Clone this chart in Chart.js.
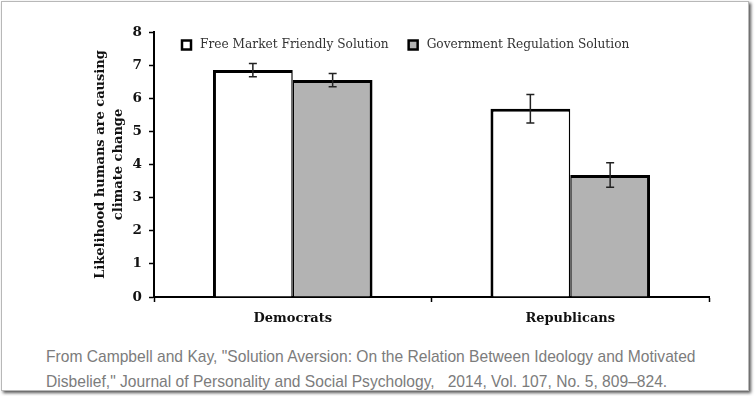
<!DOCTYPE html>
<html>
<head>
<meta charset="utf-8">
<script src="https://cdn.jsdelivr.net/npm/chart.js@4"></script>
<style>
    html, body { margin: 0; padding: 0; background: #fff; }
    .frame {
        position: absolute; left: 1px; top: 1px;
        width: 746px; height: 388px;
        border: 1px solid #b8b8b8;
        box-shadow: 2px 2px 3px #555;
        background: #fff;
    }
    .plot { position: absolute; left: 1px; top: 1px; width: 744px; height: 336px; }
    .caption {
        position: absolute; left: 44px; top: 342px;
        font-family: "Liberation Sans", sans-serif;
        font-size: 17px; line-height: 25px; color: #7c7c7c;
        white-space: nowrap;
        transform: scaleX(0.918); transform-origin: 0 0;
    }
</style>
</head>
<body>
<div class="frame">
    <div class="plot"><canvas id="chart" width="744" height="336"></canvas></div>
    <div class="caption">From Campbell and Kay, "Solution Aversion: On the Relation Between Ideology and Motivated<br>Disbelief," Journal of Personality and Social Psychology,&nbsp;&nbsp; 2014, Vol. 107, No. 5, 809–824.</div>
</div>
<script>
(function () {
    "use strict";

    // Data
    const categories = ["Democrats", "Republicans"];
    const freeMarket = [6.85, 5.68];
    const freeMarketErr = [0.2, 0.43];
    const government = [6.55, 3.68];
    const governmentErr = [0.2, 0.37];
    const yTicks = [0, 1, 2, 3, 4, 5, 6, 7, 8];

    const serif = "'DejaVu Serif', 'Liberation Serif', serif";

    // Error bars drawn from the y scale
    const errorBars = {
        id: "errorBars",
        afterDatasetsDraw(chart) {
            const ctx = chart.ctx;
            const y = chart.scales.y;
            chart.data.datasets.forEach((ds, i) => {
                const meta = chart.getDatasetMeta(i);
                meta.data.forEach((bar, j) => {
                    const v = ds.data[j];
                    const e = ds.errors[j];
                    const top = y.getPixelForValue(v + e);
                    const bot = y.getPixelForValue(v - e);
                    ctx.save();
                    ctx.strokeStyle = "#222";
                    ctx.lineWidth = 1.5;
                    ctx.beginPath();
                    ctx.moveTo(bar.x, top);
                    ctx.lineTo(bar.x, bot);
                    ctx.moveTo(bar.x - 4, top);
                    ctx.lineTo(bar.x + 4, top);
                    ctx.moveTo(bar.x - 4, bot);
                    ctx.lineTo(bar.x + 4, bot);
                    ctx.stroke();
                    ctx.restore();
                });
            });
        },
    };

    // Legend sits inside the plot area, near its top
    const innerLegend = {
        id: "innerLegend",
        afterDraw(chart) {
            const ctx = chart.ctx;
            const area = chart.chartArea;
            let x = area.left + 28;
            const y = area.top + 13;
            ctx.save();
            ctx.font = "12.2px " + serif;
            ctx.textBaseline = "middle";
            chart.data.datasets.forEach((ds) => {
                ctx.fillStyle = ds.backgroundColor;
                ctx.fillRect(x, y - 4.5, 9, 9);
                ctx.strokeStyle = "#000";
                ctx.lineWidth = 2.5;
                ctx.strokeRect(x, y - 4.5, 9, 9);
                ctx.fillStyle = "#333";
                ctx.fillText(ds.label, x + 18, y);
                x += 18 + ctx.measureText(ds.label).width + 20;
            });
            ctx.restore();
        },
    };

    const ctx = document.getElementById("chart").getContext("2d");
    new Chart(ctx, {
        type: "bar",
        data: {
            labels: categories,
            datasets: [
                {
                    label: "Free Market Friendly Solution",
                    data: freeMarket,
                    errors: freeMarketErr,
                    backgroundColor: "#ffffff",
                    borderColor: "#000",
                    borderWidth: { top: 3, left: 3, right: 1.5, bottom: 0 },
                    borderSkipped: false,
                    categoryPercentage: 0.575,
                    barPercentage: 1,
                },
                {
                    label: "Government Regulation Solution",
                    data: government,
                    errors: governmentErr,
                    backgroundColor: "#b3b3b3",
                    borderColor: "#000",
                    borderWidth: { top: 3, left: 1.5, right: 3, bottom: 0 },
                    borderSkipped: false,
                    categoryPercentage: 0.575,
                    barPercentage: 1,
                },
            ],
        },
        options: {
            responsive: false,
            animation: false,
            layout: {
                padding: { left: 87, right: 38, top: 29, bottom: 0 },
            },
            plugins: {
                tooltip: { enabled: false },
                legend: { display: false },
            },
            scales: {
                x: {
                    afterFit: (s) => { s.height = 42; },
                    ticks: {
                        color: "#111",
                        padding: 9,
                        font: { family: serif, size: 13, weight: "bold" },
                    },
                    grid: {
                        drawOnChartArea: false,
                        drawTicks: true,
                        tickLength: 5,
                        tickWidth: 1.5,
                        color: "#000",
                    },
                    border: { color: "#000", width: 2 },
                },
                y: {
                    min: 0,
                    max: 8,
                    afterFit: (s) => { s.width = 64; },
                    afterBuildTicks: (s) => { s.ticks = yTicks.map((v) => ({ value: v })); },
                    title: {
                        display: true,
                        text: ["Likelihood humans are causing", "climate change"],
                        color: "#111",
                        padding: { top: 2, bottom: 0 },
                        font: { family: serif, size: 13, weight: "bold", lineHeight: 1.35 },
                    },
                    ticks: {
                        color: "#111",
                        padding: 7,
                        font: { family: serif, size: 13.5, weight: "bold" },
                    },
                    grid: {
                        drawOnChartArea: false,
                        drawTicks: true,
                        tickLength: 5,
                        tickWidth: 1.5,
                        color: "#000",
                    },
                    border: { color: "#000", width: 2 },
                },
            },
        },
        plugins: [errorBars, innerLegend],
    });
})();
</script>
</body>
</html>
